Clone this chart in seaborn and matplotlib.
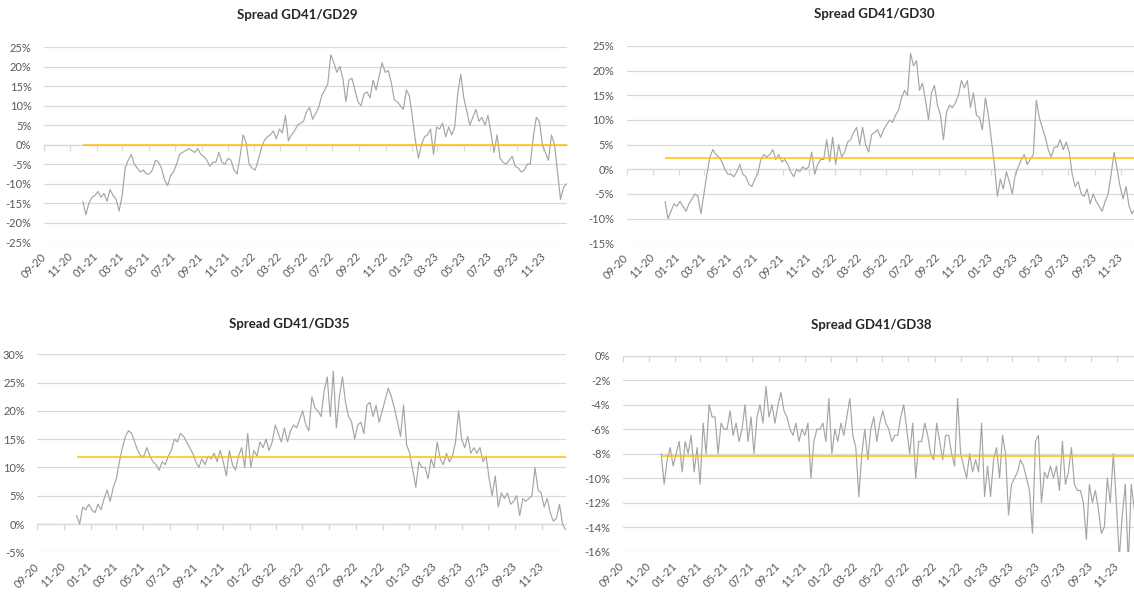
import numpy as np
import pandas as pd
import seaborn as sns
import matplotlib
matplotlib.use('Agg')
import matplotlib.pyplot as plt
import matplotlib.dates as mdates
from matplotlib.ticker import FuncFormatter, MultipleLocator, NullFormatter

# cierres semanales (lunes) desde el 30-nov-2020, spread en %
start_date = '2020-11-30'

gd29 = [-14.5, -18, -15, -13.5, -13,
        -12, -13.5, -12.5, -14.5, -11.5, -13, -14, -17, -13, -6, -4, -2.5, -5,
        -6, -7, -6.5, -7.5, -7.5, -6.5, -4, -4.5, -6, -9, -10.5, -8, -7,
        -5, -2.5, -2, -1.5, -1, -1.5, -2, -1, -2.5, -3, -4, -5.5, -4.5,
        -4.5, -2, -4.5, -5, -3.5, -4, -6.5, -7.5, -3, 2.5, 0.5, -5, -6,
        -6.5, -4, -1, 1, 2, 2.5, 3.5, 1.5, 4, 3, 7.5, 1, 2.5,
        3.5, 5, 5.5, 6, 8.5, 9.5, 6.5, 8, 9.5, 12.5, 14, 15.5, 23,
        21, 18.5, 20, 17, 11, 16.5, 17, 14, 11, 10, 13, 13.5, 12,
        16.5, 14, 17.5, 21, 18.5, 19, 16, 11.5, 11, 10, 9, 14, 12.5,
        7, 1, -3.5, 0, 2, 2.5, 4, -2.5, 4.5, 4, 5.5, 2, 4.5,
        2.5, 4.5, 13, 18, 12, 8.5, 5, 7, 9, 6, 7, 5, 7.5,
        3, -2, 2.5, -3.5, -4.5, -5, -4, -3, -5.5, -6, -7, -6.5, -5,
        -5, 2, 7, 6, 0, -2, -4, 2.5, 0, -7, -14, -11, -10]

gd30 = [-6.5, -10, -8.5, -7, -7.5,
        -6.5, -7.5, -8.5, -7, -6, -5, -5.5, -9, -5, -1, 2.5, 4, 3,
        2.5, 1.5, 0, -1, -1, -1.5, -0.5, 1, -1, -1.5, -3, -3.5, -2,
        -1, 2, 3, 2.5, 3, 4, 2, 3, 1.5, 2, 1, -0.5, -1.5,
        0, -0.5, 0.5, 0, 0.5, 3.5, -1, 1, 2, 2, 6, 1.5, 6.5,
        1, 5, 2.5, 3.5, 5.5, 6, 7.5, 8.5, 5, 8.5, 5, 3.5, 7,
        7.5, 8, 6.5, 8, 9, 10, 9.5, 11, 12, 14.5, 16, 15, 23.5,
        21, 22, 16, 17.5, 14, 10, 15.5, 17, 13, 11, 6, 11.5, 13,
        12.5, 13.5, 15, 18, 16.5, 18, 12.5, 15.5, 11, 10.5, 8, 14.5, 11,
        6, 1, -5.5, -2, -4, -0.5, -2.5, -5, -1, 0.5, 2, 3, 1,
        2, 3, 14, 10.5, 8.5, 6.5, 4, 2.5, 4.5, 4.5, 6, 4, 5.5,
        3.5, -1, -3.5, -2.5, -5, -5.5, -4, -7, -5, -6.5, -7.5, -8.5, -6.5,
        -5, -1, 3.5, 0, -3.5, -6, -3.5, -7.5, -9, -8, -7.5, -9, -8.5]

gd35 = [1.5, 0, 3, 2.5, 3.5,
        2.5, 2, 3.5, 2.5, 4.5, 6, 4, 6.5, 8, 11, 13.5, 15.5, 16.5,
        16, 14.5, 13, 12, 12, 13.5, 12, 11, 10.5, 9.5, 11, 10.5, 12,
        13, 15, 14.5, 16, 15.5, 14.5, 13.5, 12.5, 11, 10, 11.5, 10.5, 12,
        11.5, 12.5, 11, 13, 11, 8.5, 13, 10.5, 9.5, 12, 13.5, 10, 16,
        10, 13, 12, 14.5, 13.5, 15, 13, 14.5, 17.5, 16, 14.5, 17, 14.5,
        16.5, 17.5, 17, 18.5, 20, 17.5, 16.5, 22.5, 20.5, 20, 19, 23.5, 26,
        19, 27, 17, 22.5, 26, 21.5, 19, 18, 15, 17.5, 18, 16, 21,
        21.5, 19, 21, 18, 20, 22, 24, 22.5, 20.5, 18, 15.5, 21, 14,
        12.5, 9.5, 6.5, 11, 10, 10, 8, 11.5, 10, 14.5, 11.5, 10.5, 12.5,
        11, 12, 14.5, 20, 15, 13.5, 15.5, 12.5, 13.5, 12.5, 13.5, 11, 12,
        8, 5, 8.5, 3, 5.5, 4.5, 5.5, 3.5, 4, 5, 1.5, 4.5, 4,
        4.5, 5, 10, 6, 5.5, 3, 4.5, 2, 0.5, 1, 3.5, 0, -1]

gd38 = [-8, -10.5, -8.5, -7.5, -9,
        -8, -7, -9.5, -7, -8, -6.5, -9.5, -7.5, -10.5, -5.5, -8, -4, -5,
        -5, -8, -5.5, -6, -6, -4.5, -6.5, -5.5, -7, -6, -4, -7, -5,
        -8, -5, -4, -5.5, -2.5, -5, -4, -5.5, -4, -3, -4.5, -5, -6,
        -6.5, -5.5, -7, -6, -6.5, -5.5, -10, -7, -6, -6, -5.5, -7, -3.5,
        -8, -6, -7, -5.5, -6.5, -5, -3.5, -6.5, -7.5, -11.5, -8, -6, -8.5,
        -6, -5, -7, -5.5, -4.5, -5.5, -6, -7, -6.5, -6.5, -5, -4, -6,
        -8, -5.5, -10, -7, -7, -5.5, -6.5, -8, -8.5, -5.5, -7, -8.5, -6.5,
        -6.5, -8, -9, -3.5, -8, -9, -10, -8, -9.5, -8.5, -9.5, -5.5, -11.5,
        -9, -11.5, -8.5, -7.5, -10, -6.5, -8, -13, -10.5, -10, -9.5, -8.5, -9,
        -10, -11, -14.5, -7, -6.5, -12, -9.5, -10, -9, -10, -9, -11, -7,
        -10.5, -9.5, -7.5, -10.5, -11, -11, -12, -15, -10.5, -12, -11, -12.5, -14.5,
        -14, -10, -12, -8, -12, -16.5, -13, -10.5, -17, -10.5, -12.5, -13.5, -12]

titles = ['Spread GD41/GD29', 'Spread GD41/GD30', 'Spread GD41/GD35', 'Spread GD41/GD38']
series_names = ['GD29', 'GD30', 'GD35', 'GD38']
averages = [0.0, 2.2, 11.8, -8.15]
y_limits = [(-25, 25), (-15, 25), (-5, 30), (-16, 0)]
y_steps = [5, 5, 5, 2]

dates = pd.date_range(start_date, periods=len(gd29), freq='7D')
df = pd.DataFrame({'fecha': dates, 'GD29': gd29, 'GD30': gd30, 'GD35': gd35, 'GD38': gd38})

W, H = 1134, 592
# cajas de cada grafico en pixeles (x0, y0, x1, y1), los de la derecha quedan cortados
boxes = [(44, 47, 567, 242.3), (626.5, 46, 1144.5, 243.3),
         (37.3, 354.3, 566, 552.3), (622.7, 355.7, 1140.7, 551.7)]
title_pos = [(297, 15), (874, 14), (289, 324), (871, 325)]

sns.set_style('white')
plt.rcParams['font.family'] = ['Lato', 'DejaVu Sans']

fig = plt.figure(figsize=(W / 100, H / 100), dpi=100)

gray = '#a5a5a5'
yellow = '#ffc000'
grid_c = '#d9d9d9'
text_c = '#595959'
odd_months = [1, 3, 5, 7, 9, 11]

for i, name in enumerate(series_names):
    x0, y0, x1, y1 = boxes[i]
    ax = fig.add_axes([x0 / W, 1 - y1 / H, (x1 - x0) / W, (y1 - y0) / H])

    sns.lineplot(data=df, x='fecha', y=name, ax=ax, color=gray, linewidth=0.85)
    ax.hlines(averages[i], dates[0], dates[-1], color=yellow, lw=1.1, zorder=3)

    ax.set_xlim(pd.Timestamp('2020-09-01'), pd.Timestamp('2023-12-26'))
    ax.set_ylim(*y_limits[i])
    ax.yaxis.set_major_locator(MultipleLocator(y_steps[i]))
    ax.yaxis.set_major_formatter(FuncFormatter(lambda v, p: f'{int(round(v))}%'))
    ax.xaxis.set_major_locator(mdates.MonthLocator(bymonth=odd_months))
    ax.xaxis.set_major_formatter(mdates.DateFormatter('%m-%y'))

    ax.grid(axis='y', color=grid_c, lw=0.9)
    ax.grid(axis='x', visible=False)
    for s in ax.spines.values():
        s.set_visible(False)

    ax.tick_params(axis='both', length=0, labelsize=8, labelcolor=text_c)
    ax.tick_params(axis='y', pad=9)
    ax.tick_params(axis='x', pad=9)
    for lab in ax.get_xticklabels():
        lab.set_rotation(45)
        lab.set_ha('right')
        lab.set_va('center')
        lab.set_rotation_mode('anchor')
    ax.set_xlabel('')
    ax.set_ylabel('')

    # eje horizontal en 0 con marcas (como en excel)
    sec = ax.secondary_xaxis(0, transform=ax.transData)
    sec.xaxis.set_major_locator(mdates.MonthLocator(bymonth=odd_months))
    sec.xaxis.set_major_formatter(NullFormatter())
    sec.tick_params(length=4, direction='out', color=grid_c, width=0.9)
    sec.spines['bottom'].set_color(grid_c)
    sec.spines['bottom'].set_linewidth(0.9)

    tx, ty = title_pos[i]
    fig.text(tx / W, 1 - ty / H, titles[i], ha='center', va='center',
             fontsize=9.5, fontweight='bold', color='#262626')

fig.savefig('out.png', dpi=100)
